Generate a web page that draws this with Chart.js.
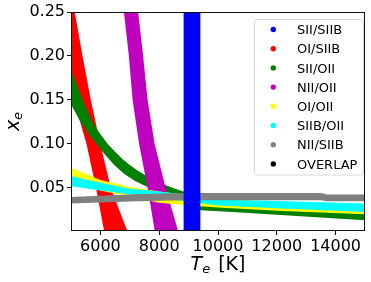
<!DOCTYPE html>
<html>
<head>
<meta charset="utf-8">
<script src="https://cdn.jsdelivr.net/npm/chart.js@4/dist/chart.umd.min.js"></script>
<style>
  html, body { margin: 0; padding: 0; background: #fff; }
  #wrap { width: 371px; height: 282px; }
</style>
</head>
<body>
<div id="wrap"><canvas id="chart"></canvas></div>
<script>
// legend entries, in the order of the reference legend
const seriesNames = ["SII/SIIB", "OI/SIIB", "SII/OII", "NII/OII", "OI/OII", "SIIB/OII", "NII/SIIB", "OVERLAP"];
const seriesColors = ["#0000ff", "#ff0000", "#008000", "#bf00bf", "#ffff00", "#00ffff", "#808080", "#000000"];

// axis ticks
const teTicks = [6000, 8000, 10000, 12000, 14000];
const xeTicks = [0.05, 0.10, 0.15, 0.20, 0.25];

// steep bands: Te of the left / right edge at each x_e level
const xeLevels = [0.25, 0.20, 0.15, 0.10, 0.05, 0.0];
const sIIsIIbLeftTe = [8830, 8830, 8830, 8830, 8830, 8830];
const sIIsIIbRightTe = [9400, 9400, 9400, 9400, 9400, 9400];
const oIsIIbLeftTe = [4813, 4949, 5100, 5528, 5852, 6131];
const oIsIIbRightTe = [5129, 5392, 5675, 5995, 6356, 6925];
const nIIoIILeftTe = [6799, 6969, 7095, 7317, 7606, 7855];
const nIIoIIRightTe = [7283, 7453, 7606, 7845, 8220, 8652];

// flatter bands: upper and lower edge as (Te, x_e)
const sIIoIIUpperTe = [4900, 5000, 5200, 5400, 5600, 5800, 6000, 6250, 6500, 6750, 7000, 7250, 7500, 7750, 8000, 8500, 9000, 9400, 10500, 12000, 15000];
const sIIoIIUpperXe = [0.195, 0.185, 0.167, 0.150, 0.134, 0.121, 0.111, 0.100, 0.091, 0.083, 0.076, 0.070, 0.065, 0.060, 0.056, 0.0495, 0.044, 0.030, 0.028, 0.025, 0.021];
const sIIoIILowerTe = [4900, 5000, 5290, 5600, 5845, 6100, 6472, 6800, 7163, 7600, 8015, 8500, 9000, 9400, 10500, 12000, 15000];
const sIIoIILowerXe = [0.152, 0.145, 0.127, 0.111, 0.1007, 0.090, 0.076, 0.066, 0.058, 0.051, 0.046, 0.041, 0.037, 0.0245, 0.0226, 0.0195, 0.0131];

const flatTe = [4900, 5000, 6000, 7000, 8000, 9000, 10000, 12000, 15000];
const oIoIIUpperXe = [0.075, 0.0728, 0.059, 0.051, 0.046, 0.042, 0.038, 0.034, 0.028];
const oIoIILowerXe = [0.058, 0.056, 0.047, 0.040, 0.033, 0.030, 0.0276, 0.024, 0.020];
const sIIboIIUpperXe = [0.064, 0.0634, 0.056, 0.049, 0.046, 0.042, 0.0368, 0.035, 0.0322];
const sIIboIILowerXe = [0.0525, 0.052, 0.047, 0.0425, 0.038, 0.0345, 0.030, 0.027, 0.0226];

const nIIsIIbTe = [4900, 5000, 6000, 7000, 8000, 9000, 13500, 13700, 15000];
const nIIsIIbUpperXe = [0.0395, 0.0397, 0.041, 0.0425, 0.0435, 0.0443, 0.0443, 0.0425, 0.0425];
const nIIsIIbLowerXe = [0.032, 0.0322, 0.0335, 0.0345, 0.0355, 0.036, 0.036, 0.0348, 0.0348];

function bandFromEdges(levels, leftTe, rightTe) {
  const pts = levels.map((v, i) => ({ x: leftTe[i], y: v }));
  for (let i = levels.length - 1; i >= 0; i--) pts.push({ x: rightTe[i], y: levels[i] });
  return pts;
}

function bandFromCurves(upTe, upXe, loTe, loXe) {
  const pts = upTe.map((t, i) => ({ x: t, y: upXe[i] }));
  for (let i = loTe.length - 1; i >= 0; i--) pts.push({ x: loTe[i], y: loXe[i] });
  return pts;
}

function band(label, color, data) {
  return {
    label,
    data,
    backgroundColor: color,
    borderColor: color,
    borderWidth: 0,
    pointRadius: 0,
    tension: 0,
    fill: "shape",
  };
}

// index 0 is drawn last (on top)
const datasets = [
  band("SII/SIIB", seriesColors[0], bandFromEdges(xeLevels, sIIsIIbLeftTe, sIIsIIbRightTe)),
  band("NII/SIIB", seriesColors[6], bandFromCurves(nIIsIIbTe, nIIsIIbUpperXe, nIIsIIbTe, nIIsIIbLowerXe)),
  band("SIIB/OII", seriesColors[5], bandFromCurves(flatTe, sIIboIIUpperXe, flatTe, sIIboIILowerXe)),
  band("OI/OII", seriesColors[4], bandFromCurves(flatTe, oIoIIUpperXe, flatTe, oIoIILowerXe)),
  band("NII/OII", seriesColors[3], bandFromEdges(xeLevels, nIIoIILeftTe, nIIoIIRightTe)),
  band("SII/OII", seriesColors[2], bandFromCurves(sIIoIIUpperTe, sIIoIIUpperXe, sIIoIILowerTe, sIIoIILowerXe)),
  band("OI/SIIB", seriesColors[1], bandFromEdges(xeLevels, oIsIIbLeftTe, oIsIIbRightTe)),
  band("OVERLAP", seriesColors[7], []),
];

const FONT = "DejaVu Sans";

// spines, axis titles with subscripts, and the boxed legend
const decorations = {
  id: "decorations",
  afterDatasetsDraw(chart) {
    const { ctx, chartArea: a } = chart;
    ctx.save();
    ctx.strokeStyle = "#111";
    ctx.lineWidth = 1;
    ctx.strokeRect(a.left + 0.5, a.top + 0.5, a.right - a.left - 1, a.bottom - a.top - 1);
    ctx.restore();
  },
  afterDraw(chart) {
    const { ctx, chartArea: a } = chart;
    ctx.save();
    ctx.fillStyle = "#000";
    ctx.textBaseline = "alphabetic";

    // x title: T_e [K]
    const big = "italic 19px '" + FONT + "'";
    const sub = "italic 13px '" + FONT + "'";
    const plain = "19px '" + FONT + "'";
    ctx.font = big; const wT = ctx.measureText("T").width;
    ctx.font = sub; const wE = ctx.measureText("e").width;
    ctx.font = plain; const wK = ctx.measureText(" [K]").width;
    let x0 = (a.left + a.right) / 2 - (wT + wE + wK + 2) / 2;
    const by = 270;
    ctx.font = big; ctx.fillText("T", x0, by);
    ctx.font = sub; ctx.fillText("e", x0 + wT, by + 3);
    ctx.font = plain; ctx.fillText(" [K]", x0 + wT + wE + 2, by);

    // y title: x_e, rotated
    ctx.save();
    ctx.translate(18.5, (a.top + a.bottom) / 2);
    ctx.rotate(-Math.PI / 2);
    ctx.font = big; const wX = ctx.measureText("x").width;
    const sx = -(wX + wE) / 2;
    ctx.fillText("x", sx, 0);
    ctx.font = sub; ctx.fillText("e", sx + wX, 3.5);
    ctx.restore();

    // legend
    const lx = 254.5, ly = 19.5, lw = 109, lh = 155.5, r = 3;
    ctx.beginPath();
    ctx.moveTo(lx + r, ly);
    ctx.arcTo(lx + lw, ly, lx + lw, ly + lh, r);
    ctx.arcTo(lx + lw, ly + lh, lx, ly + lh, r);
    ctx.arcTo(lx, ly + lh, lx, ly, r);
    ctx.arcTo(lx, ly, lx + lw, ly, r);
    ctx.closePath();
    ctx.fillStyle = "rgba(255,255,255,0.8)";
    ctx.fill();
    ctx.strokeStyle = "#d6d6d6";
    ctx.lineWidth = 1;
    ctx.stroke();

    ctx.font = "13px '" + FONT + "'";
    seriesNames.forEach((name, i) => {
      const cy = 29.5 + i * 19.2;
      ctx.fillStyle = seriesColors[i];
      ctx.beginPath();
      ctx.arc(273.3, cy, 2.7, 0, Math.PI * 2);
      ctx.fill();
      ctx.fillStyle = "#000";
      ctx.fillText(name, 297, cy + 4.7);
    });
    ctx.restore();
  },
};

new Chart(document.getElementById("chart"), {
  type: "line",
  data: { datasets },
  options: {
    responsive: true,
    maintainAspectRatio: false,
    animation: false,
    events: [],
    layout: { padding: { top: 12, right: 6, left: 0, bottom: 0 } },
    plugins: {
      legend: { display: false },
      tooltip: { enabled: false },
    },
    scales: {
      x: {
        type: "linear",
        min: 5000,
        max: 15000,
        afterFit: (s) => { s.height = 51; },
        afterBuildTicks: (s) => { s.ticks = teTicks.map((v) => ({ value: v })); },
        border: { display: false },
        grid: { drawOnChartArea: false, drawTicks: true, tickLength: 4, color: "#111" },
        ticks: {
          font: { family: FONT, size: 16 },
          color: "#000",
          padding: 2,
          maxRotation: 0,
          callback: (v) => String(v),
        },
      },
      y: {
        type: "linear",
        min: 0.001,
        max: 0.25,
        afterFit: (s) => { s.width = 71; },
        afterBuildTicks: (s) => { s.ticks = xeTicks.map((v) => ({ value: v })); },
        border: { display: false },
        grid: { drawOnChartArea: false, drawTicks: true, tickLength: 4, color: "#111" },
        ticks: {
          font: { family: FONT, size: 16 },
          color: "#000",
          padding: 2,
          callback: (v) => v.toFixed(2),
        },
      },
    },
  },
  plugins: [decorations],
});
</script>
</body>
</html>
